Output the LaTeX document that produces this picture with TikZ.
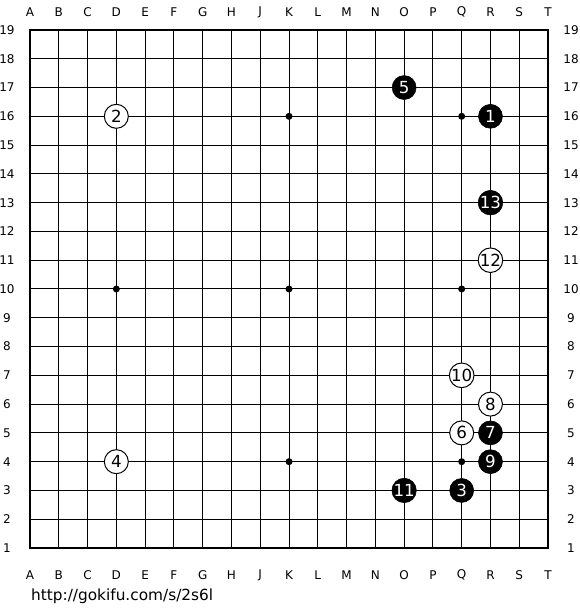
\documentclass[tikz,border=0pt]{standalone}
\usepackage{fontspec}
\setmainfont{DejaVu Sans}
\tikzset{
  gridline/.style={line width=0.75pt},
  boardframe/.style={line width=2pt},
  starpt/.style={circle,fill=black,inner sep=0pt,minimum size=5.25pt},
  blackst/.style={circle,draw=black,fill=black,text=white,inner sep=0pt,minimum size=18pt,font=\fontsize{12.5}{12.5}\selectfont},
  whitest/.style={circle,draw=black,line width=0.75pt,fill=white,text=black,inner sep=0pt,minimum size=18pt,font=\fontsize{12.5}{12.5}\selectfont},
  coordlabel/.style={font=\fontsize{9}{9}\selectfont,inner sep=0pt},
  urllabel/.style={font=\fontsize{11.5}{11.5}\selectfont,inner sep=0pt,anchor=base west}
}
\begin{document}
\begin{tikzpicture}[x=21.585pt,y=21.585pt]
  \useasboundingbox (-1.0424,-2.154) rectangle (19.111,19.042);

  % board
  \foreach \i in {0,...,18} {
    \draw[gridline] (\i,0) -- (\i,18);
    \draw[gridline] (0,\i) -- (18,\i);
  }
  \draw[boardframe] (0,0) rectangle (18,18);
  \foreach \sx/\sy in {3/3,9/3,15/3,3/9,9/9,15/9,3/15,9/15,15/15}
    \node[starpt] (star\sx-\sy) at (\sx,\sy) {};

  % coordinates
  \foreach \l [count=\i from 0] in {A,B,C,D,E,F,G,H,J,K,L,M,N,O,P,Q,R,S,T} {
    \node[coordlabel] (top\l) at (\i,18.62) {\l};
    \node[coordlabel] (bot\l) at (\i,-0.94) {\l};
  }
  \foreach \r in {1,...,19} {
    \node[coordlabel] (left\r) at (-0.8,\r-1) {\r};
    \node[coordlabel] (right\r) at (18.8,\r-1) {\r};
  }

  % moves
  \node[blackst] (m1) at (16,15) {1};
  \node[whitest] (m2) at (3,15) {2};
  \node[blackst] (m3) at (15,2) {3};
  \node[whitest] (m4) at (3,3) {4};
  \node[blackst] (m5) at (13,16) {5};
  \node[whitest] (m6) at (15,4) {6};
  \node[blackst] (m7) at (16,4) {7};
  \node[whitest] (m8) at (16,5) {8};
  \node[blackst] (m9) at (16,3) {9};
  \node[whitest] (m10) at (15,6) {10};
  \node[blackst] (m11) at (13,2) {11};
  \node[whitest] (m12) at (16,10) {12};
  \node[blackst] (m13) at (16,12) {13};

  \node[urllabel] (url) at (0.03,-1.81) {http://gokifu.com/s/2s6l};
\end{tikzpicture}
\end{document}
